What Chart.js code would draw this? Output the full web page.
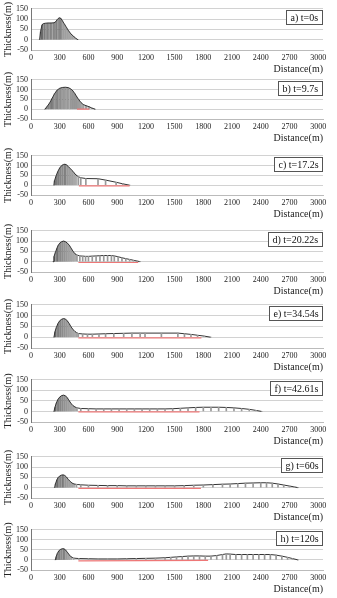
<!DOCTYPE html>
<html>
<head>
<meta charset="utf-8">
<script src="https://cdn.jsdelivr.net/npm/chart.js@4.4.0/dist/chart.umd.min.js"></script>
<style>
  body { margin: 0; background: #fff; width: 337px; height: 598px; position: relative; overflow: hidden; }
  canvas { position: absolute; left: 0; }
</style>
</head>
<body>
<script>
// axis ticks
const distTicks = [0, 300, 600, 900, 1200, 1500, 1800, 2100, 2400, 2700, 3000];
const thickTicks = [-50, 0, 50, 100, 150];

const panelLabels = ['a) t=0s', 'b) t=9.7s', 'c) t=17.2s', 'd) t=20.22s',
  'e) t=34.54s', 'f) t=42.61s', 'g) t=60s', 'h) t=120s'];

// profiles: distance (m) / thickness (m)
const distA = [90, 100, 115, 130, 150, 180, 210, 240, 260, 275, 290, 300, 315, 330, 350, 370, 390, 410, 430, 450, 470, 490];
const thickA = [0, 40, 72, 78, 80, 81, 81, 82, 88, 98, 105, 106, 102, 90, 75, 60, 45, 32, 22, 14, 6, 0];

const distB = [145, 170, 195, 220, 245, 270, 300, 330, 360, 390, 420, 440, 460, 480, 500, 520, 545, 575, 605, 635, 670];
const thickB = [0, 15, 32, 55, 78, 96, 107, 111, 112, 110, 102, 92, 78, 62, 48, 35, 24, 18, 13, 6, 0];

const distC = [240, 245, 260, 280, 300, 320, 340, 355, 370, 390, 410, 430, 450, 470, 495, 520, 573, 700, 779, 889, 958, 1030];
const thickC = [0, 22, 45, 70, 88, 100, 106, 107, 104, 95, 85, 75, 63, 52, 43, 38, 34, 33, 26, 15, 7, 0];

const distD = [230, 240, 255, 270, 285, 300, 320, 340, 360, 380, 400, 420, 440, 460, 480,
  510, 540, 570, 600, 640, 680, 720, 760, 800, 840, 870, 910, 950, 990, 1030, 1070, 1110, 1140];
const thickD = [0, 25, 45, 65, 80, 90, 97, 100, 97, 90, 80, 65, 50, 38, 32,
  28, 27, 26, 26, 27, 28, 29, 30, 30, 30, 28, 24, 19, 15, 11, 7, 3, 0];

const distE = [240, 250, 265, 280, 300, 320, 340, 360, 380, 400, 420, 440, 460, 480,
  494, 539, 590, 641, 710, 779, 865, 968, 1054, 1140, 1191, 1362, 1534, 1603, 1671, 1740, 1810, 1877];
const thickE = [0, 25, 45, 62, 76, 83, 86, 84, 75, 62, 47, 35, 26, 20,
  17, 15, 14, 14, 15, 16, 17, 18, 19, 19, 19, 19, 19, 16, 13, 9, 5, 0];

const distF = [240, 250, 265, 280, 300, 320, 340, 360, 380, 400, 420, 440, 460, 480,
  520, 600, 680, 760, 840, 920, 1000, 1080, 1160, 1240, 1320, 1400, 1480, 1560, 1640, 1720,
  1800, 1880, 1960, 2040, 2120, 2200, 2280, 2350, 2410];
const thickF = [0, 20, 40, 56, 68, 75, 77, 74, 64, 50, 37, 27, 21, 17,
  14, 13, 12, 12, 12, 12, 12, 12, 12, 12, 12, 12, 13, 15, 17, 19,
  20, 20, 20, 19, 17, 14, 10, 5, 0];

const distG = [247, 255, 270, 285, 300, 320, 335, 350, 370, 390, 410, 430, 450, 475,
  520, 600, 700, 800, 900, 1000, 1100, 1200, 1300, 1400, 1500, 1600, 1700, 1800, 1900, 2000,
  2080, 2160, 2240, 2320, 2400, 2460, 2520, 2580, 2640, 2700, 2750, 2790];
const thickG = [0, 18, 38, 50, 57, 61, 62, 60, 52, 40, 30, 22, 18, 16,
  14, 12, 11, 10, 10, 9, 9, 9, 9, 9, 9, 10, 12, 13, 15, 17,
  18, 20, 22, 23, 24, 24, 22, 18, 13, 8, 4, 0];

const distH = [254, 262, 275, 290, 310, 330, 345, 360, 380, 400, 420, 445,
  500, 600, 700, 800, 900, 1000, 1100, 1200, 1300, 1400, 1460, 1520, 1580, 1640, 1700, 1760, 1820, 1880,
  1940, 2000, 2040, 2080, 2140, 2200, 2260, 2320, 2380, 2440, 2500, 2560, 2620, 2680, 2730, 2790];
const thickH = [0, 15, 32, 45, 53, 56, 55, 50, 38, 25, 15, 9,
  7, 6, 5, 5, 5, 6, 7, 8, 9, 11, 13, 15, 17, 19, 20, 20, 19, 19,
  22, 27, 30, 29, 27, 27, 27, 27, 27, 27, 27, 24, 19, 13, 7, 0];

// red base line under the deposit (start, end, level)
const baseFrom = [null, 480, 500, 495, 495, 495, 495, 495];
const baseTo = [null, 610, 1030, 1120, 1780, 1760, 1775, 1850];
const baseLevelFrom = [null, 0, -3, -4, -3, -2, -3, -5];
const baseLevelTo = [null, 0, -3, -4, -3, -2, -3, -2];

// layout (px)
const plotTop = [7, 78, 154, 229, 303, 378, 455, 528];
const plotHeight = [43, 41, 41, 43, 45, 44, 43, 42];
const humpEnd = [500, 700, 480, 470, 470, 470, 460, 440];

const serif = '"Liberation Serif", "Times New Roman", serif';

const labelBox = {
  id: 'labelBox',
  afterDraw(chart, args, opts) {
    const {ctx, chartArea} = chart;
    ctx.save();
    ctx.font = '10px ' + serif;
    const w = Math.round(ctx.measureText(opts.text).width + 9);
    const h = 15;
    const x = Math.round(chartArea.right) - w;
    const y = Math.round(chartArea.top) + 1;
    ctx.fillStyle = '#fff';
    ctx.fillRect(x, y, w, h);
    ctx.strokeStyle = '#555';
    ctx.lineWidth = 1;
    ctx.strokeRect(x + 0.5, y + 0.5, w - 1, h - 1);
    ctx.fillStyle = '#111';
    ctx.textBaseline = 'middle';
    ctx.fillText(opts.text, x + 4.5, y + h / 2 + 0.5);
    ctx.restore();
  }
};

function makePanel(i, dist, thick) {
  const cv = document.createElement('canvas');
  const h = plotHeight[i] + 6 + 27;
  cv.width = 337;
  cv.height = h;
  cv.style.top = (plotTop[i] - 6) + 'px';
  cv.style.width = '337px';
  cv.style.height = h + 'px';
  document.body.appendChild(cv);

  const x0 = dist[0];
  const xe = humpEnd[i];
  // darker on the uphill side, lighter towards the front
  const shade = (x) => {
    if (x >= xe) return 'rgba(0,0,0,0)';
    const s = Math.round(140 + 90 * (x - x0) / (xe - x0));
    return 'rgb(' + s + ',' + s + ',' + s + ')';
  };

  const pts = dist.map((x, k) => ({x: x, y: thick[k]}));
  const datasets = [
    {
      type: 'line',
      data: pts,
      borderColor: '#333',
      borderWidth: 1,
      pointRadius: 0,
      fill: 'origin',
      backgroundColor: 'rgba(0,0,0,0)',
      segment: { backgroundColor: (c) => shade(c.p0.parsed.x) },
      order: 2
    },
    {
      type: 'bar',
      data: pts,
      barThickness: 1,
      borderWidth: 0,
      backgroundColor: (c) => (c.raw && c.raw.x < xe) ? 'rgba(50,50,50,0.35)' : '#999',
      order: 1
    }
  ];
  if (baseFrom[i] !== null) {
    datasets.push({
      type: 'line',
      data: [{x: baseFrom[i], y: baseLevelFrom[i]}, {x: baseTo[i], y: baseLevelTo[i]}],
      borderColor: '#e77',
      borderWidth: 1.2,
      pointRadius: 0,
      fill: false,
      order: 0
    });
  }

  new Chart(cv, {
    type: 'line',
    data: { datasets: datasets },
    plugins: [labelBox],
    options: {
      responsive: false,
      animation: false,
      layout: { padding: { top: 6, right: 14, left: 0, bottom: 0 } },
      plugins: {
        legend: { display: false },
        tooltip: { enabled: false },
        labelBox: { text: panelLabels[i] }
      },
      scales: {
        x: {
          type: 'linear',
          min: 0,
          max: 3050,
          offset: false,
          afterBuildTicks: (s) => { s.ticks = distTicks.map(v => ({value: v})); },
          afterFit: (s) => { s.height = 27; },
          grid: { display: false, drawTicks: false },
          border: { color: '#bbb' },
          ticks: {
            autoSkip: false, maxRotation: 0, padding: 3,
            color: '#222', font: { family: serif, size: 8 },
            callback: (v) => String(v)
          },
          title: {
            display: true, text: 'Distance(m)', align: 'end',
            color: '#222', font: { family: serif, size: 10 },
            padding: { top: 0, bottom: 2 }
          }
        },
        y: {
          min: -50,
          max: 150,
          afterBuildTicks: (s) => { s.ticks = thickTicks.map(v => ({value: v})); },
          afterFit: (s) => { s.width = 31; },
          grid: { color: '#d2d2d2', drawTicks: false },
          border: { color: '#777' },
          ticks: {
            autoSkip: false, padding: 3, color: '#222', font: { family: serif, size: 8 },
            callback: (v) => String(v)
          },
          title: {
            display: true, text: 'Thickness(m)',
            color: '#222', font: { family: serif, size: 10 },
            padding: { top: 2, bottom: 0 }
          }
        }
      }
    }
  });
}

makePanel(0, distA, thickA);
makePanel(1, distB, thickB);
makePanel(2, distC, thickC);
makePanel(3, distD, thickD);
makePanel(4, distE, thickE);
makePanel(5, distF, thickF);
makePanel(6, distG, thickG);
makePanel(7, distH, thickH);
</script>
</body>
</html>
